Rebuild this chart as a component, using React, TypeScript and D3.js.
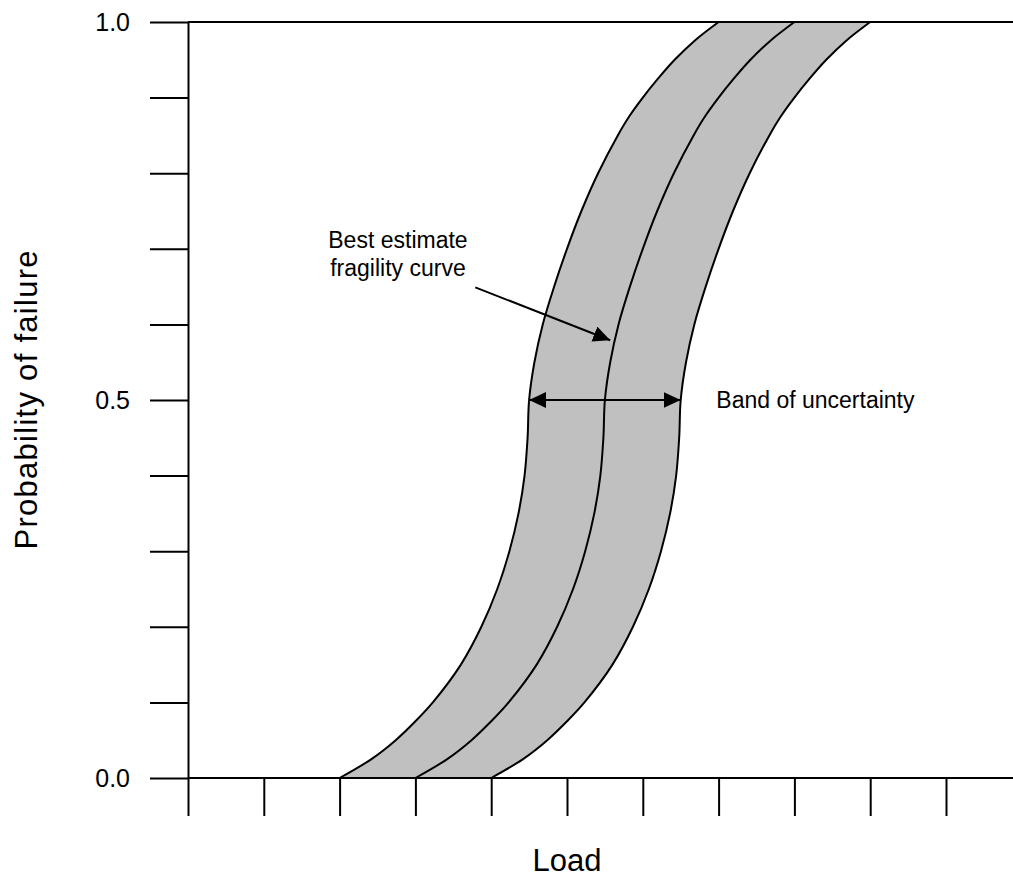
import React, { useEffect, useRef } from 'react';
import * as d3 from 'd3';

// probability levels the curves were read at
const PROB = [0, 0.025, 0.05, 0.075, 0.1, 0.15, 0.2, 0.25, 0.3, 0.35, 0.4, 0.45, 0.5, 0.55, 0.6, 0.65, 0.7, 0.75, 0.8, 0.85, 0.875, 0.9, 0.925, 0.95, 0.975, 1];
// load at each probability level (in tick units)
const LOAD_LOWER = [2.00, 2.42, 2.74, 3.00, 3.23, 3.60, 3.87, 4.08, 4.24, 4.36, 4.44, 4.48, 4.50, 4.57, 4.68, 4.83, 5.00, 5.19, 5.41, 5.67, 5.82, 6.00, 6.20, 6.42, 6.68, 7.00];
const LOAD_BEST = [3.00, 3.42, 3.74, 4.00, 4.23, 4.60, 4.87, 5.08, 5.24, 5.36, 5.44, 5.48, 5.50, 5.57, 5.68, 5.83, 6.00, 6.19, 6.41, 6.67, 6.82, 7.00, 7.20, 7.42, 7.68, 8.00];
const LOAD_UPPER = [4.00, 4.42, 4.74, 5.00, 5.23, 5.60, 5.87, 6.08, 6.24, 6.36, 6.44, 6.48, 6.50, 6.57, 6.68, 6.83, 7.00, 7.19, 7.41, 7.67, 7.82, 8.00, 8.20, 8.42, 8.68, 9.00];

const X_TICKS = [0, 1, 2, 3, 4, 5, 6, 7, 8, 9, 10];
const Y_TICKS = [0, 0.1, 0.2, 0.3, 0.4, 0.5, 0.6, 0.7, 0.8, 0.9, 1];
const Y_LABELLED = [0, 0.5, 1];

// annotations (load, probability)
const POINTER_FROM = [3.79, 0.649];
const POINTER_TO = [5.57, 0.579];
const BEST_LABEL = ['Best estimate', 'fragility curve'];
const BEST_LABEL_POS = [2.77, 0.701];
const BAND_LABEL = 'Band of uncertainty';
const BAND_LABEL_POS = [6.97, 0.5];

const App = () => {
    const width = 1013;
    const height = 877;
    const margin = { top: 22, left: 188, bottom: 99 };

    const svgRef = useRef<SVGSVGElement>(null);

    const x = d3.scaleLinear().domain([0, 10]).range([margin.left, 946]);
    const y = d3.scaleLinear().domain([0, 1]).range([height - margin.bottom, margin.top]);

    useEffect(() => {
        const svg = d3.select(svgRef.current);
        svg.selectAll('*').remove();

        const font = 'Liberation Sans, Arial, Helvetica, sans-serif';
        const curve = d3.curveCatmullRom.alpha(0.5);

        // arrow head
        svg.append('defs').append('marker')
            .attr('id', 'head')
            .attr('viewBox', '0 0 17 16')
            .attr('markerUnits', 'userSpaceOnUse')
            .attr('markerWidth', 17)
            .attr('markerHeight', 16)
            .attr('refX', 17)
            .attr('refY', 8)
            .attr('orient', 'auto-start-reverse')
            .append('path')
            .attr('d', 'M0,0 L17,8 L0,16 Z')
            .attr('fill', '#000');

        const rows = PROB.map((p, i) => ({ p, lo: LOAD_LOWER[i], best: LOAD_BEST[i], hi: LOAD_UPPER[i] }));

        // band of uncertainty
        const area = d3.area<any>()
            .y(d => y(d.p))
            .x0(d => x(d.lo))
            .x1(d => x(d.hi))
            .curve(curve);

        svg.append('path')
            .datum(rows)
            .attr('d', area)
            .attr('fill', '#c0c0c0')
            .attr('stroke', 'none');

        const lineOf = (key: string) => d3.line<any>()
            .x(d => x(d[key]))
            .y(d => y(d.p))
            .curve(curve);

        ['lo', 'best', 'hi'].forEach(key => {
            svg.append('path')
                .datum(rows)
                .attr('d', lineOf(key))
                .attr('fill', 'none')
                .attr('stroke', '#000')
                .attr('stroke-width', 2);
        });

        // y axis
        const yAxis = d3.axisLeft(y)
            .tickValues(Y_TICKS)
            .tickSize(38)
            .tickSizeOuter(0)
            .tickPadding(20)
            .tickFormat((d: any) => (Y_LABELLED.some(v => Math.abs(v - d) < 1e-9) ? d3.format('.1f')(d) : ''));

        const gy = svg.append('g')
            .attr('transform', 'translate(' + margin.left + ',0)')
            .call(yAxis);
        gy.select('.domain').attr('stroke', '#000').attr('stroke-width', 2);
        gy.selectAll('.tick line').attr('stroke', '#000').attr('stroke-width', 2);
        gy.selectAll('.tick text')
            .attr('font-family', font)
            .attr('font-size', 25)
            .attr('fill', '#000');

        // x axis
        const xAxis = d3.axisBottom(x)
            .tickValues(X_TICKS)
            .tickSize(38)
            .tickSizeOuter(0)
            .tickFormat(() => '');

        const gx = svg.append('g')
            .attr('transform', 'translate(0,' + y(0) + ')')
            .call(xAxis);
        gx.select('.domain').remove();
        gx.selectAll('.tick line').attr('stroke', '#000').attr('stroke-width', 2);

        // horizontal frame lines at 0 and 1
        [0, 1].forEach(p => {
            svg.append('line')
                .attr('x1', x(0))
                .attr('x2', width)
                .attr('y1', y(p))
                .attr('y2', y(p))
                .attr('stroke', '#000')
                .attr('stroke-width', 2);
        });

        // band arrow at p = 0.5
        const mid = PROB.indexOf(0.5);
        svg.append('line')
            .attr('x1', x(LOAD_LOWER[mid]))
            .attr('x2', x(LOAD_UPPER[mid]))
            .attr('y1', y(0.5))
            .attr('y2', y(0.5))
            .attr('stroke', '#000')
            .attr('stroke-width', 2)
            .attr('marker-start', 'url(#head)')
            .attr('marker-end', 'url(#head)');

        svg.append('text')
            .attr('x', x(BAND_LABEL_POS[0]))
            .attr('y', y(BAND_LABEL_POS[1]))
            .attr('dy', '0.33em')
            .attr('font-family', font)
            .attr('font-size', 23)
            .text(BAND_LABEL);

        // best estimate pointer
        svg.append('line')
            .attr('x1', x(POINTER_FROM[0]))
            .attr('y1', y(POINTER_FROM[1]))
            .attr('x2', x(POINTER_TO[0]))
            .attr('y2', y(POINTER_TO[1]))
            .attr('stroke', '#000')
            .attr('stroke-width', 2)
            .attr('marker-end', 'url(#head)');

        const t = svg.append('text')
            .attr('x', x(BEST_LABEL_POS[0]))
            .attr('y', y(BEST_LABEL_POS[1]))
            .attr('text-anchor', 'middle')
            .attr('font-family', font)
            .attr('font-size', 23);
        BEST_LABEL.forEach((s, i) => {
            t.append('tspan')
                .attr('x', x(BEST_LABEL_POS[0]))
                .attr('dy', i === 0 ? 0 : 28)
                .text(s);
        });

        // axis titles
        svg.append('text')
            .attr('x', x(5))
            .attr('y', 871)
            .attr('text-anchor', 'middle')
            .attr('font-family', font)
            .attr('font-size', 31)
            .text('Load');

        svg.append('text')
            .attr('transform', 'translate(37,' + y(0.5) + ') rotate(-90)')
            .attr('text-anchor', 'middle')
            .attr('font-family', font)
            .attr('font-size', 31)
            .attr('textLength', 299)
            .attr('lengthAdjust', 'spacing')
            .text('Probability of failure');
    }, []);

    return <React.Fragment>
        <svg width={width} height={height} ref={svgRef}
            style={{ position: 'absolute', left: 0, top: 0, background: '#fff' }} />
    </React.Fragment>;
};

export default App;
